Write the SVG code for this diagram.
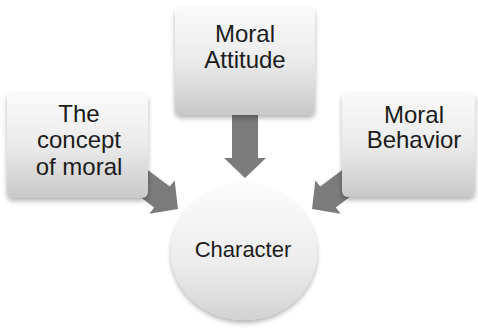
<svg xmlns="http://www.w3.org/2000/svg" width="478" height="329" viewBox="0 0 478 329">
<defs>
<linearGradient id="boxg" x1="0" y1="0" x2="0" y2="1">
<stop offset="0" stop-color="#fafafa"/>
<stop offset="0.5" stop-color="#ebebeb"/>
<stop offset="1" stop-color="#c9c9c9"/>
</linearGradient>
<linearGradient id="circg" x1="0" y1="0" x2="0" y2="1">
<stop offset="0" stop-color="#fbfbfb"/>
<stop offset="0.6" stop-color="#ececec"/>
<stop offset="1" stop-color="#d2d2d2"/>
</linearGradient>
<filter id="sh" x="-20%" y="-20%" width="140%" height="150%">
<feGaussianBlur in="SourceAlpha" stdDeviation="2.5"/>
<feOffset dx="0" dy="3" result="b"/>
<feComponentTransfer><feFuncA type="linear" slope="0.3"/></feComponentTransfer>
<feMerge><feMergeNode/><feMergeNode in="SourceGraphic"/></feMerge>
</filter>
<path id="arr" d="M-45,-13 L0,-13 L0,-21 L20,0 L0,21 L0,13 L-45,13 Z"/>
</defs>
<style>
.box{fill:url(#boxg);filter:url(#sh)}
.circ{fill:url(#circg);filter:url(#sh)}
.arrow{fill:#7b7b7b}
text{font-family:"Liberation Sans",Arial,sans-serif;fill:#1c1c1c;text-anchor:middle}
.t{font-size:24px}
.c{font-size:22px}
</style>
<g id="connectors">
<use href="#arr" class="arrow" transform="translate(245,158) rotate(90)"/>
<use href="#arr" class="arrow" transform="translate(162,197) rotate(37)"/>
<use href="#arr" class="arrow" transform="translate(328,197) rotate(143)"/>
</g>
<g id="moral-attitude">
<rect class="box" x="175" y="7" width="140" height="108" rx="6"/>
<text class="t" x="245" y="42">Moral</text>
<text class="t" x="245" y="68">Attitude</text>
</g>
<g id="concept-of-moral">
<rect class="box" x="7" y="92" width="141" height="106" rx="6"/>
<text class="t" x="79" y="122">The</text>
<text class="t" x="79" y="148">concept</text>
<text class="t" x="79" y="175">of moral</text>
</g>
<g id="moral-behavior">
<rect class="box" x="342" y="92" width="133" height="105" rx="6"/>
<text class="t" x="414" y="123">Moral</text>
<text class="t" x="414" y="148">Behavior</text>
</g>
<g id="character">
<ellipse class="circ" cx="244" cy="252" rx="73" ry="68"/>
<text class="c" x="243" y="257">Character</text>
</g>
</svg>
